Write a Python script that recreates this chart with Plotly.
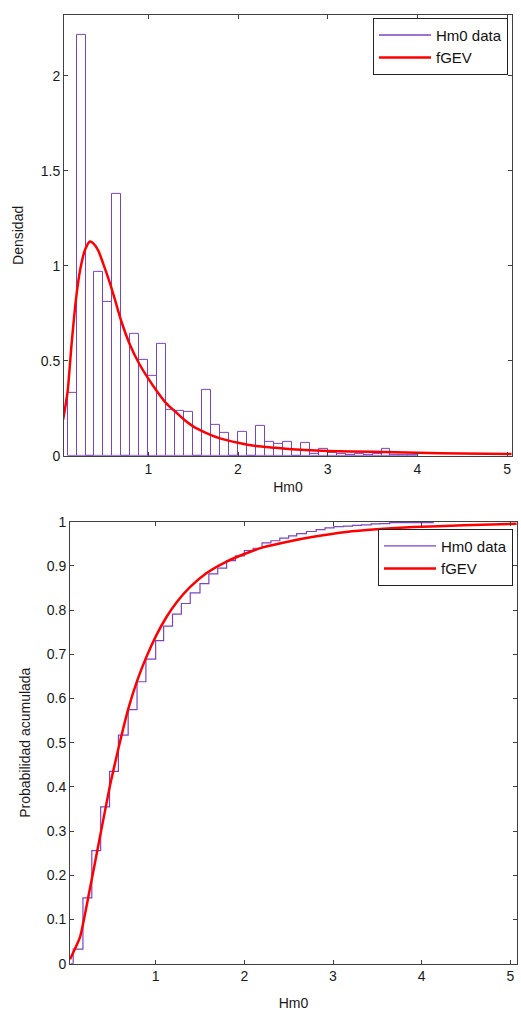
import plotly.graph_objects as go

# ---------------- data ----------------
# Histogram (density), bins of width 0.1 starting at 0.1
bin_centers = [0.15, 0.25, 0.35, 0.45, 0.55, 0.65, 0.75, 0.85, 0.95, 1.05,
               1.15, 1.25, 1.35, 1.45, 1.55, 1.65, 1.75, 1.85, 1.95, 2.05,
               2.15, 2.25, 2.35, 2.45, 2.55, 2.65, 2.75, 2.85, 2.95, 3.05,
               3.15, 3.25, 3.35, 3.45, 3.55, 3.65, 3.75, 3.85, 3.95]
density = [0.332, 2.216, 0.0, 0.970, 0.812, 1.378, 0.0, 0.639, 0.504, 0.423,
           0.591, 0.242, 0.237, 0.230, 0.0, 0.349, 0.164, 0.121, 0.0, 0.124,
           0.0, 0.157, 0.074, 0.064, 0.074, 0.0, 0.069, 0.010, 0.034, 0.015,
           0.008, 0.005, 0.010, 0.005, 0.008, 0.034, 0.005, 0.003, 0.003]
bin_width = 0.1

# Fitted GEV density
pdf_x = [0.05, 0.10, 0.146, 0.197, 0.246, 0.298, 0.35, 0.387, 0.443, 0.498,
         0.573, 0.629, 0.699, 0.80, 0.90, 1.0, 1.1, 1.2, 1.3, 1.4, 1.5, 1.6,
         1.7, 1.8, 2.0, 2.2, 2.4, 2.6, 3.0, 3.5, 4.0, 4.5, 5.05]
pdf_y = [0.19, 0.337, 0.596, 0.838, 0.993, 1.088, 1.128, 1.118, 1.079, 1.01,
         0.907, 0.82, 0.708, 0.579, 0.483, 0.406, 0.337, 0.276, 0.233, 0.19,
         0.155, 0.13, 0.109, 0.092, 0.069, 0.052, 0.043, 0.035, 0.026, 0.021,
         0.016, 0.012, 0.009]

# Empirical cumulative distribution (stairs)
ecdf_x = [0.04, 0.07, 0.18, 0.28, 0.38, 0.48, 0.58, 0.69, 0.79, 0.89, 1.0,
          1.09, 1.19, 1.29, 1.39, 1.5, 1.6, 1.7, 1.8, 1.9, 2.0, 2.1, 2.2,
          2.3, 2.4, 2.5, 2.59, 2.7, 2.81, 2.91, 3.01, 3.12, 3.22, 3.32, 3.43,
          3.53, 3.64, 4.13]
ecdf_y = [0.0, 0.033, 0.149, 0.256, 0.355, 0.435, 0.517, 0.575, 0.638, 0.689,
          0.731, 0.764, 0.791, 0.815, 0.839, 0.860, 0.882, 0.895, 0.912, 0.923,
          0.935, 0.940, 0.952, 0.957, 0.963, 0.968, 0.973, 0.978, 0.982, 0.986,
          0.989, 0.990, 0.992, 0.993, 0.995, 0.996, 0.998, 1.0]

# Fitted GEV cumulative distribution
cdf_x = [0.034, 0.147, 0.259, 0.372, 0.485, 0.58, 0.692, 0.793, 0.891, 1.01,
         1.124, 1.237, 1.387, 1.575, 1.80, 2.0, 2.21, 2.515, 2.78, 3.15, 3.49,
         3.91, 4.47, 5.07]
cdf_y = [0.01, 0.06, 0.17, 0.287, 0.403, 0.487, 0.577, 0.641, 0.692, 0.744,
         0.785, 0.818, 0.852, 0.884, 0.910, 0.927, 0.942, 0.956, 0.966, 0.977,
         0.983, 0.988, 0.992, 0.9955]

x_ticks = [1, 2, 3, 4, 5]
y1_ticks = [0, 0.5, 1, 1.5, 2]
y2_ticks = [0, 0.1, 0.2, 0.3, 0.4, 0.5, 0.6, 0.7, 0.8, 0.9, 1]

# ---------------- styles ----------------
W, H = 521, 1014
PURPLE = "#7b44c4"
RED = "#ff0000"
AXC = "#404040"
FONT = "Liberation Sans, Arial, sans-serif"

fig = go.Figure()

# top: histogram
fig.add_trace(go.Bar(x=bin_centers, y=density, width=bin_width,
                     marker=dict(color="rgba(255,255,255,0)",
                                 line=dict(color=PURPLE, width=1)),
                     xaxis="x", yaxis="y", showlegend=False, hoverinfo="x+y"))
fig.add_trace(go.Scatter(x=[None], y=[None], mode="lines", name="Hm0 data",
                         line=dict(color=PURPLE, width=1.5),
                         xaxis="x", yaxis="y", legend="legend"))
fig.add_trace(go.Scatter(x=pdf_x, y=pdf_y, mode="lines", name="fGEV",
                         line=dict(color=RED, width=2.5, shape="spline", smoothing=0.6),
                         xaxis="x", yaxis="y", legend="legend"))

# bottom: cumulative
fig.add_trace(go.Scatter(x=ecdf_x, y=ecdf_y, mode="lines", name="Hm0 data",
                         line=dict(color=PURPLE, width=1.2, shape="hv"),
                         xaxis="x2", yaxis="y2", legend="legend2"))
fig.add_trace(go.Scatter(x=cdf_x, y=cdf_y, mode="lines", name="fGEV",
                         line=dict(color=RED, width=2.5, shape="spline", smoothing=0.5),
                         xaxis="x2", yaxis="y2", legend="legend2"))


def axis(domain, rng, tickvals, anchor, title, standoff):
    return dict(domain=domain, range=rng, tickvals=tickvals,
                ticktext=[("%g" % v) for v in tickvals],
                anchor=anchor, showgrid=False, zeroline=False,
                showline=True, linecolor=AXC, linewidth=1, mirror="ticks",
                ticks="inside", ticklen=4, tickcolor=AXC, tickwidth=1,
                tickfont=dict(family=FONT, size=14, color="#1a1a1a"),
                title=dict(text=title, font=dict(family=FONT, size=14, color="#1a1a1a"),
                           standoff=standoff),
                fixedrange=True)


legend_common = dict(bgcolor="white", bordercolor="#222222", borderwidth=1,
                     font=dict(family=FONT, size=15, color="#111111"),
                     xanchor="right", yanchor="top", itemwidth=52,
                     tracegroupgap=0)

fig.update_layout(
    width=W, height=H,
    margin=dict(l=0, r=0, t=0, b=0),
    paper_bgcolor="white", plot_bgcolor="white",
    bargap=0,
    xaxis=axis([64 / W, 512 / W], [0.06, 5.055], x_ticks, "y", "Hm0", 6),
    yaxis=axis([1 - 455 / H, 1 - 7 / H], [0, 2.32], y1_ticks, "x", "Densidad", 13),
    xaxis2=axis([70 / W, 517 / W], [0.034, 5.075], x_ticks, "y2", "Hm0", 14),
    yaxis2=axis([1 - 971 / H, 1 - 522 / H], [0, 1], y2_ticks, "x2",
                "Probabilidad acumulada", 12),
    legend=dict(x=508 / W, y=1 - 10 / H, **legend_common),
    legend2=dict(x=513 / W, y=1 - 529 / H, **legend_common),
)

fig.write_html("out.html")
